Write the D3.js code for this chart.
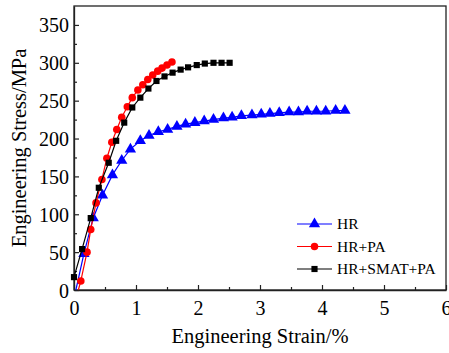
<!DOCTYPE html>
<html>
<head>
<meta charset="utf-8">
<script src="https://cdn.jsdelivr.net/npm/d3@7"></script>
<style>
  body { margin: 0; background: #fff; }
  svg { display: block; }
  svg text { font-family: "Liberation Serif", "DejaVu Serif", "Times New Roman", Times, serif; }
</style>
</head>
<body>
<svg width="449" height="353"></svg>
<script>
// values (strain in %, stress in MPa)
var hrStrain = [0.03, 0.16, 0.31, 0.46, 0.62, 0.77, 0.91, 1.07, 1.21, 1.36, 1.51, 1.66, 1.80, 1.95, 2.10,
                2.25, 2.41, 2.55, 2.70, 2.87, 3.02, 3.16, 3.31, 3.47, 3.62, 3.76, 3.91, 4.06, 4.22, 4.37];
var hrStress = [0, 48, 95, 125, 152, 171, 186, 197, 204, 209, 212, 216, 219, 221, 223,
                225, 227, 228, 230, 231, 232, 233, 234, 235, 235, 236, 236, 236, 237, 237];

var paStrain = [0.07, 0.11, 0.21, 0.27, 0.355, 0.45, 0.53, 0.61, 0.69, 0.77, 0.86, 0.94, 1.03,
                1.11, 1.19, 1.27, 1.35, 1.42, 1.50, 1.58];
var paStress = [0, 12, 50, 80, 115, 146, 174, 195, 212, 228, 242, 254, 264,
                271, 278, 284, 289, 293, 297, 301];

var smatStrain = [0.0, 0.13, 0.27, 0.40, 0.56, 0.68, 0.81, 0.94, 1.07, 1.20, 1.33, 1.46, 1.59,
                  1.72, 1.84, 1.98, 2.11, 2.25, 2.38, 2.51];
var smatStress = [17, 54, 95, 135, 168, 197, 221, 241, 254, 266, 276, 282, 287,
                  291, 294, 297, 299, 300, 300, 300];

var seriesNames = ["HR", "HR+PA", "HR+SMAT+PA"];
var seriesColors = ["#0000ff", "#ff0000", "#000000"];
var seriesShapes = [d3.symbolTriangle, d3.symbolCircle, d3.symbolSquare];

var xTicks = [0, 1, 2, 3, 4, 5, 6];
var yTicks = [0, 50, 100, 150, 200, 250, 300, 350];

drawChart();

function drawChart() {
    var svg = d3.select("svg");
    var m = { left: 74, right: 446, top: 6, bottom: 290 };

    var x = d3.scaleLinear().domain([0, 6]).range([m.left, m.right]);
    var y = d3.scaleLinear().domain([0, 375]).range([m.bottom, m.top]);

    function zip(xs, ys) {
        return xs.map((v, i) => ({ x: v, y: ys[i] }));
    }
    var series = [zip(hrStrain, hrStress), zip(paStrain, paStress), zip(smatStrain, smatStress)];

    // minor ticks
    svg.append("g")
        .attr("transform", "translate(0," + m.bottom + ")")
        .call(d3.axisBottom(x).tickValues(d3.range(0.5, 6, 1)).tickSize(-3).tickSizeOuter(0).tickFormat(""))
        .call(g => g.select(".domain").remove());
    svg.append("g")
        .attr("transform", "translate(" + m.left + ",0)")
        .call(d3.axisLeft(y).tickValues(d3.range(25, 375, 50)).tickSize(-3).tickSizeOuter(0).tickFormat(""))
        .call(g => g.select(".domain").remove());

    // major axes
    var xAxis = svg.append("g")
        .attr("transform", "translate(0," + m.bottom + ")")
        .call(d3.axisBottom(x).tickValues(xTicks).tickSize(-5).tickSizeOuter(0).tickFormat(d3.format("d")));
    xAxis.selectAll("text").attr("y", 25).attr("dy", null);

    var yAxis = svg.append("g")
        .attr("transform", "translate(" + m.left + ",0)")
        .call(d3.axisLeft(y).tickValues(yTicks).tickSize(-5).tickSizeOuter(0).tickFormat(d3.format("d")));
    yAxis.selectAll("text").attr("x", -5).attr("dy", "0.35em");

    // d3 axes set font-family on the group; drop it so the css serif applies
    svg.selectAll("g").attr("font-family", null).attr("font-size", null);
    svg.selectAll(".tick text")
        .attr("fill", "#000")
        .style("font-size", "20px");
    svg.selectAll(".tick line").attr("stroke", "#222").attr("stroke-width", 1.2);
    svg.selectAll(".domain").attr("stroke", "#222").attr("stroke-width", 1.3);

    // frame
    svg.append("rect")
        .attr("x", m.left).attr("y", m.top)
        .attr("width", m.right - m.left).attr("height", m.bottom - m.top)
        .attr("fill", "none").attr("stroke", "#222").attr("stroke-width", 1.3);

    // curves
    var plot = svg.append("g");
    var line = d3.line().x(d => x(d.x)).y(d => y(d.y));
    var markerSizes = [55, 45, 38];

    series.forEach((pts, i) => {
        plot.append("path")
            .datum(pts)
            .attr("d", line)
            .attr("fill", "none")
            .attr("stroke", seriesColors[i])
            .attr("stroke-width", 1.2);

        plot.append("g")
            .selectAll("path")
            .data(pts.filter(d => d.y > 0))
            .enter()
            .append("path")
            .attr("transform", d => "translate(" + x(d.x) + "," + y(d.y) + ")")
            .attr("d", d3.symbol().type(seriesShapes[i]).size(markerSizes[i]))
            .attr("fill", seriesColors[i]);
    });

    // legend
    var legend = svg.append("g").attr("transform", "translate(297,224)");
    seriesNames.forEach((name, i) => {
        var row = legend.append("g").attr("transform", "translate(0," + (i * 22.5) + ")");
        row.append("line")
            .attr("x1", 0).attr("x2", 35)
            .attr("stroke", seriesColors[i]).attr("stroke-width", 1.2);
        row.append("path")
            .attr("transform", "translate(17.5,0)")
            .attr("d", d3.symbol().type(seriesShapes[i]).size(markerSizes[i]))
            .attr("fill", seriesColors[i]);
        row.append("text")
            .attr("x", 40).attr("dy", "0.35em")
            .style("font-size", "15.5px")
            .text(name);
    });

    // axis titles
    svg.append("text")
        .attr("x", (m.left + m.right) / 2).attr("y", 343)
        .attr("text-anchor", "middle")
        .style("font-size", "20.5px")
        .text("Engineering Strain/%");

    svg.append("text")
        .attr("transform", "translate(26," + ((m.top + m.bottom) / 2) + ") rotate(-90)")
        .attr("text-anchor", "middle")
        .style("font-size", "20.5px")
        .text("Engineering Stress/MPa");
}
</script>
</body>
</html>
